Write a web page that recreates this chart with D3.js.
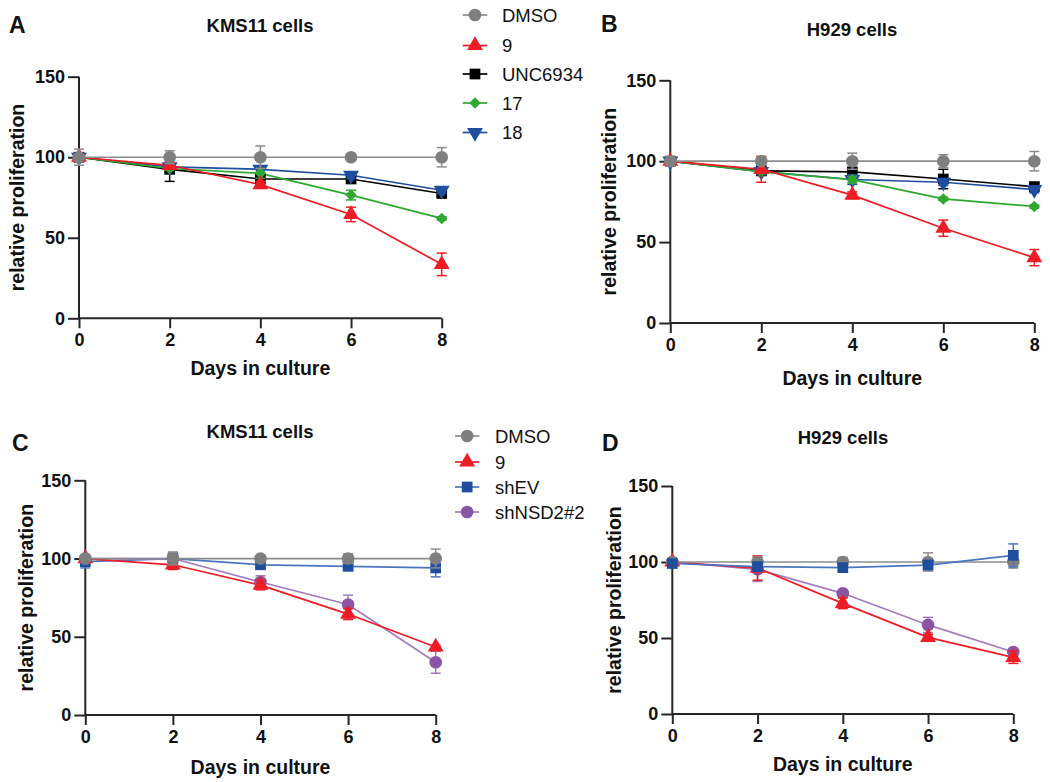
<!DOCTYPE html>
<html>
<head>
<meta charset="utf-8">
<script src="https://cdn.jsdelivr.net/npm/d3@7"></script>
<style>
  body { margin: 0; background: #fff; }
  svg { display: block; font-family: "Liberation Sans", Arial, sans-serif; }
</style>
</head>
<body>
<svg id="chart" width="1050" height="782"></svg>
<script>
// ---------- DATA ----------
const days = [0, 2, 4, 6, 8];
const yTicks = [0, 50, 100, 150];
const xTicks = [0, 2, 4, 6, 8];

// Panel A – KMS11 cells
const A_DMSO = [100, 100, 100, 100, 100];
const A_DMSO_err = [5, 4, 7, 2, 6];
const A_9 = [100, 95, 83, 64.5, 33.5];
const A_9_err = [1, 2, 2, 4.5, 7];
const A_UNC6934 = [100, 92.5, 86.5, 86.5, 77.5];
const A_UNC6934_err = [1, 7.5, 2, 2, 2];
const A_17 = [100, 93, 90, 76.5, 62];
const A_17_err = [1, 1, 3, 3, 1];
const A_18 = [100, 94, 92.5, 88.8, 79.5];
const A_18_err = [1, 1, 2, 2, 2];

// Panel B – H929 cells
const B_DMSO = [100, 100, 100, 100, 100];
const B_DMSO_err = [3, 2, 5, 4, 6];
const B_9 = [100, 95, 79, 58.6, 40.4];
const B_9_err = [2, 8, 2, 5, 5];
const B_UNC6934 = [100, 94, 93.4, 89, 84.3];
const B_UNC6934_err = [1, 2, 2, 6, 2];
const B_17 = [100, 93.5, 88.6, 76.7, 72];
const B_17_err = [1, 1, 2, 1, 1];
const B_18 = [100, 93.6, 88.7, 87, 82.5];
const B_18_err = [2, 2, 3, 2, 2];

// Panel C – KMS11 cells (shRNA)
const C_DMSO = [100, 100, 100, 100, 100];
const C_DMSO_err = [2, 4, 2, 3, 6];
const C_9 = [100, 96, 83, 64.5, 43.5];
const C_9_err = [1, 3, 3, 3.5, 1];
const C_shEV = [98, 100, 96, 95, 94];
const C_shEV_err = [4, 4, 2, 2, 5.7];
const C_shNSD2 = [100, 100, 85, 70.6, 33.7];
const C_shNSD2_err = [1, 2, 4, 6, 7];

// Panel D – H929 cells (shRNA)
const D_DMSO = [100, 100, 100, 100, 100];
const D_DMSO_err = [1, 3, 3, 6, 4];
const D_9 = [100, 96, 72.8, 50.4, 37.3];
const D_9_err = [1, 8, 3.5, 2, 4];
const D_shEV = [99, 97, 96.3, 98, 104.4];
const D_shEV_err = [1, 2, 2, 3, 7.5];
const D_shNSD2 = [100, 95.2, 79.4, 58.6, 40.8];
const D_shNSD2_err = [1, 8, 2, 5, 2];

const legendTop = ["DMSO", "9", "UNC6934", "17", "18"];
const legendBottom = ["DMSO", "9", "shEV", "shNSD2#2"];

// ---------- STYLES ----------
const styles = {
  "DMSO":     { line: "#8c8c8c", fill: "#7f7f7f", sym: "circle" },
  "9":        { line: "#ee1c25", fill: "#ee1c25", sym: "triangle" },
  "UNC6934":  { line: "#000000", fill: "#000000", sym: "square" },
  "17":       { line: "#2ea82e", fill: "#2ea82e", sym: "diamond" },
  "18":       { line: "#1f4e9e", fill: "#1f4e9e", sym: "triangleDown" },
  "shEV":     { line: "#4a76c0", fill: "#1f4e9e", sym: "square" },
  "shNSD2#2": { line: "#a27bc0", fill: "#8b55a5", sym: "circle" }
};

function symbolPath(kind) {
  switch (kind) {
    case "circle": return d3.symbol(d3.symbolCircle, 125)();
    case "triangle": return d3.symbol(d3.symbolTriangle, 110)();
    case "triangleDown": return d3.symbol(d3.symbolTriangle, 110)();
    case "square": return d3.symbol(d3.symbolSquare, 115)();
    case "diamond": return d3.symbol(d3.symbolDiamond2, 85)();
  }
}

const panels = [
  { label: "A", title: "KMS11 cells", x0: 79, x1: 441.7, y0: 318.3, y1: 76.7,
    titleY: 32, labelX: 9, labelY: 33, yTitleX: 24, xTitleY: 375, titleX: 260,
    series: [
      { name: "UNC6934", v: A_UNC6934, e: A_UNC6934_err },
      { name: "18", v: A_18, e: A_18_err },
      { name: "17", v: A_17, e: A_17_err },
      { name: "9", v: A_9, e: A_9_err },
      { name: "DMSO", v: A_DMSO, e: A_DMSO_err }
    ] },
  { label: "B", title: "H929 cells", x0: 670.3, x1: 1034.3, y0: 323, y1: 80.3,
    titleY: 36, labelX: 601, labelY: 32, yTitleX: 616, xTitleY: 385, titleX: 852,
    series: [
      { name: "UNC6934", v: B_UNC6934, e: B_UNC6934_err },
      { name: "18", v: B_18, e: B_18_err },
      { name: "17", v: B_17, e: B_17_err },
      { name: "9", v: B_9, e: B_9_err },
      { name: "DMSO", v: B_DMSO, e: B_DMSO_err }
    ] },
  { label: "C", title: "KMS11 cells", x0: 85.3, x1: 435.7, y0: 715, y1: 480.3,
    titleY: 438, labelX: 12, labelY: 451, yTitleX: 33, xTitleY: 774, titleX: 260,
    series: [
      { name: "shEV", v: C_shEV, e: C_shEV_err },
      { name: "shNSD2#2", v: C_shNSD2, e: C_shNSD2_err },
      { name: "9", v: C_9, e: C_9_err },
      { name: "DMSO", v: C_DMSO, e: C_DMSO_err }
    ] },
  { label: "D", title: "H929 cells", x0: 672.3, x1: 1013.3, y0: 714, y1: 486,
    titleY: 444, labelX: 602, labelY: 451, yTitleX: 621, xTitleY: 771, titleX: 843,
    series: [
      { name: "shNSD2#2", v: D_shNSD2, e: D_shNSD2_err },
      { name: "9", v: D_9, e: D_9_err },
      { name: "DMSO", v: D_DMSO, e: D_DMSO_err },
      { name: "shEV", v: D_shEV, e: D_shEV_err }
    ] }
];

const svg = d3.select("#chart");
const axisColor = "#262626";

panels.forEach(p => {
  const g = svg.append("g");
  const x = d3.scaleLinear().domain([0, 8]).range([p.x0, p.x1]);
  const y = d3.scaleLinear().domain([0, 150]).range([p.y0, p.y1]);

  // panel label & title
  g.append("text").attr("x", p.labelX).attr("y", p.labelY)
    .attr("font-size", 23).attr("font-weight", "bold").attr("fill", "#111").text(p.label);
  g.append("text").attr("x", p.titleX).attr("y", p.titleY).attr("text-anchor", "middle")
    .attr("font-size", 18.5).attr("font-weight", "bold").attr("fill", "#111").text(p.title);

  // axes
  const yAxis = d3.axisLeft(y).tickValues(yTicks).tickSize(11).tickPadding(3);
  const xAxis = d3.axisBottom(x).tickValues(xTicks).tickSize(10).tickPadding(5);
  const ya = g.append("g").attr("transform", `translate(${p.x0},0)`).call(yAxis);
  const xa = g.append("g").attr("transform", `translate(0,${p.y0})`).call(xAxis);
  [ya, xa].forEach(a => {
    a.select(".domain").attr("stroke", axisColor).attr("stroke-width", 2);
    a.selectAll(".tick line").attr("stroke", axisColor).attr("stroke-width", 2);
    a.selectAll(".tick text").attr("font-size", 18).attr("font-weight", "bold")
      .attr("fill", "#111").attr("font-family", "Liberation Sans, Arial, sans-serif");
  });
  ya.select(".domain").attr("d", `M0,${p.y0}V${p.y1}`);
  xa.select(".domain").attr("d", `M${p.x0},0H${p.x1}`);

  // axis titles
  g.append("text").attr("x", (p.x0 + p.x1) / 2).attr("y", p.xTitleY).attr("text-anchor", "middle")
    .attr("font-size", 19.5).attr("font-weight", "bold").attr("fill", "#111").text("Days in culture");
  g.append("text")
    .attr("transform", `translate(${p.yTitleX},${(p.y0 + p.y1) / 2}) rotate(-90)`)
    .attr("text-anchor", "middle")
    .attr("font-size", 19.5).attr("font-weight", "bold").attr("fill", "#111").text("relative proliferation");

  const line = d3.line().x((d, i) => x(days[i])).y(d => y(d));

  // lines
  p.series.forEach(s => {
    g.append("path").attr("d", line(s.v)).attr("fill", "none")
      .attr("stroke", styles[s.name].line).attr("stroke-width", 1.7);
  });
  // error bars + markers
  p.series.forEach(s => {
    const st = styles[s.name];
    const eg = g.append("g").attr("stroke", st.line).attr("stroke-width", 1.5);
    s.v.forEach((v, i) => {
      const cx = x(days[i]);
      const top = y(v + s.e[i]), bot = y(v - s.e[i]);
      eg.append("line").attr("x1", cx).attr("x2", cx).attr("y1", top).attr("y2", bot);
      eg.append("line").attr("x1", cx - 5).attr("x2", cx + 5).attr("y1", top).attr("y2", top);
      eg.append("line").attr("x1", cx - 5).attr("x2", cx + 5).attr("y1", bot).attr("y2", bot);
    });
    s.v.forEach((v, i) => {
      const rot = st.sym === "triangleDown" ? " rotate(180)" : "";
      g.append("path").attr("d", symbolPath(st.sym))
        .attr("transform", `translate(${x(days[i])},${y(v)})${rot}`)
        .attr("fill", st.fill);
    });
  });
});

// legends
function drawLegend(names, lx0, lx1, tx, ys, fs) {
  const lg = svg.append("g");
  names.forEach((n, i) => {
    const st = styles[n];
    lg.append("line").attr("x1", lx0).attr("x2", lx1).attr("y1", ys[i]).attr("y2", ys[i])
      .attr("stroke", st.line).attr("stroke-width", 1.7);
    const rot = st.sym === "triangleDown" ? " rotate(180)" : "";
    lg.append("path").attr("d", symbolPath(st.sym))
      .attr("transform", `translate(${(lx0 + lx1) / 2},${ys[i]})${rot}`).attr("fill", st.fill);
    lg.append("text").attr("x", tx).attr("y", ys[i]).attr("dy", "0.36em")
      .attr("font-size", fs).attr("fill", "#111").text(n);
  });
}
drawLegend(legendTop, 462.7, 487.3, 502, [15, 45.5, 74, 103, 132.5], 18.5);
drawLegend(legendBottom, 455, 479.3, 495, [436, 462, 487, 512], 18.5);
</script>
</body>
</html>
